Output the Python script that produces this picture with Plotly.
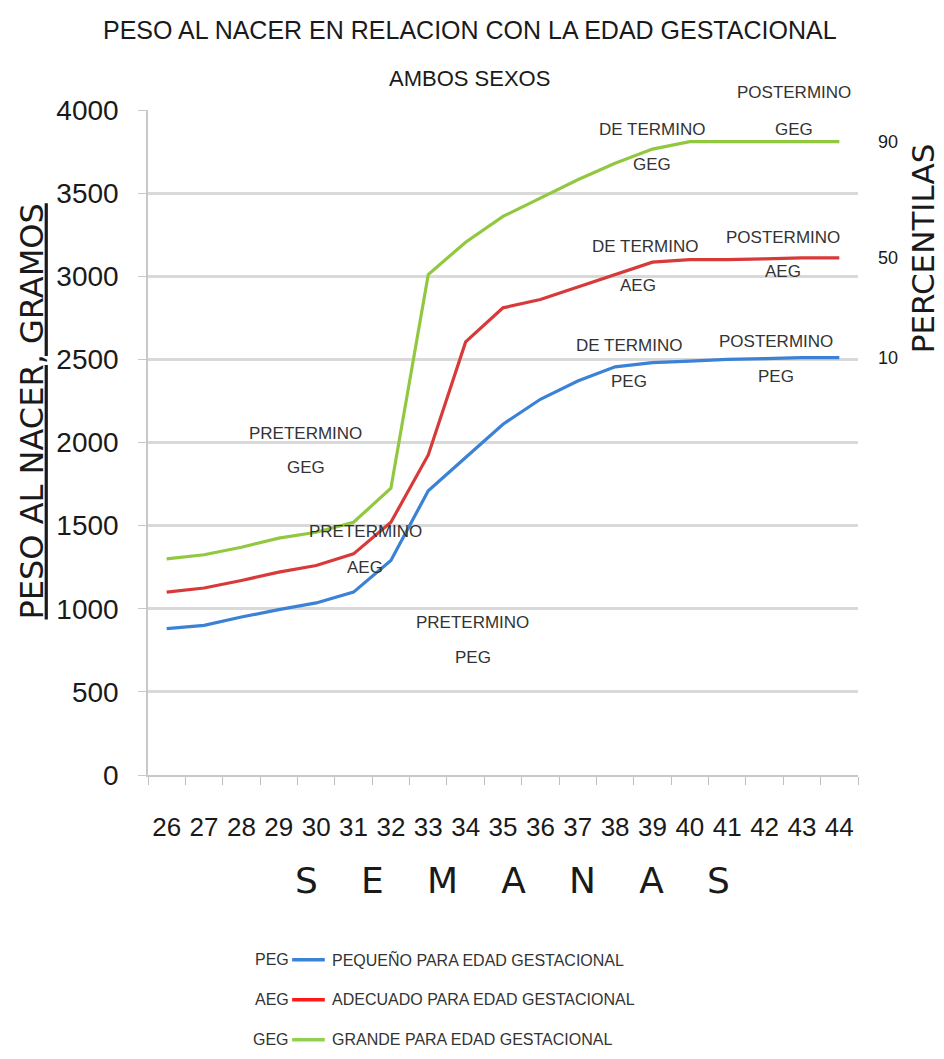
import plotly.graph_objects as go

semanas = [str(s) for s in range(26, 45)]
peg = [880, 900, 950, 995, 1035, 1100, 1290, 1710, 1910, 2110, 2260, 2370, 2455, 2480, 2490, 2500, 2505, 2510, 2510]
aeg = [1100, 1125, 1170, 1220, 1260, 1330, 1520, 1925, 2605, 2810, 2860, 2935, 3015, 3085, 3100, 3100, 3105, 3110, 3110]
geg = [1300, 1325, 1370, 1425, 1460, 1520, 1725, 3010, 3205, 3360, 3470, 3580, 3680, 3765, 3810, 3810, 3810, 3810, 3810]
y_ticks = [0, 500, 1000, 1500, 2000, 2500, 3000, 3500, 4000]
percentiles = ["90", "50", "10"]

series = [
    ("PEG", peg, "#3b82d6", "PEQUEÑO PARA EDAD GESTACIONAL"),
    ("AEG", aeg, "#d83a3a", "ADECUADO PARA EDAD GESTACIONAL"),
    ("GEG", geg, "#92c840", "GRANDE PARA EDAD GESTACIONAL"),
]
legend_colors = ["#3b82d6", "#ff1a1a", "#92d050"]

NARROW = "Liberation Sans, Arial, sans-serif"
WIDE = "DejaVu Sans, sans-serif"
TXT = "#1a1a1a"

fig = go.Figure()
for name, vals, color, _ in series:
    fig.add_trace(go.Scatter(x=semanas, y=vals, mode="lines", name=name,
                             line=dict(color=color, width=3.2), showlegend=False))


def ann(text, x, y, xref="paper", yref="paper", size=17, family=NARROW, color="#333333",
        xanchor="center", angle=0):
    return dict(text=text, x=x, y=y, xref=xref, yref=yref, showarrow=False,
                xanchor=xanchor, yanchor="middle", textangle=angle,
                font=dict(family=family, size=size, color=color))


# point labels (text, x category index, y value)
labels = [
    ("GEG", 16.78, 3880),
    ("DE TERMINO", 13.0, 3880), ("GEG", 13.0, 3675),
    ("DE TERMINO", 12.8, 3176), ("AEG", 12.6, 2947),
    ("POSTERMINO", 16.5, 3236), ("AEG", 16.5, 3026),
    ("DE TERMINO", 12.37, 2586), ("PEG", 12.37, 2364),
    ("POSTERMINO", 16.3, 2605), ("PEG", 16.3, 2400),
    ("PRETERMINO", 3.72, 2057), ("GEG", 3.72, 1847),
    ("PRETERMINO", 5.32, 1462), ("AEG", 5.32, 1251),
    ("PRETERMINO", 8.19, 920), ("PEG", 8.19, 704),
]
anns = [ann(t, x, y, "x", "y") for t, x, y in labels]
anns.append(ann("POSTERMINO", 16.78, 1.0256, "x", "paper"))

# percentile labels on right
for p, vals in zip(percentiles, [geg, aeg, peg]):
    anns.append(ann(p, 1.042, vals[-1], "paper", "y", size=18, color=TXT))
anns.append(ann("PERCENTILAS", 1.092, 3170, "paper", "y", size=31, family=WIDE, color=TXT, angle=-90))

# titles
anns.append(ann("PESO AL NACER EN RELACION CON LA EDAD GESTACIONAL", 0.453, 1.120, size=25, color=TXT))
anns.append(ann("AMBOS SEXOS", 0.453, 1.048, size=22, color=TXT))
anns.append(ann("<u>PESO AL NACER, GRAMOS</u>", -0.164, 0.546, size=32, family=WIDE, color=TXT, angle=-90))
anns.append(ann("S\u2003\u2009E\u2003\u2009M\u2003\u2009A\u2003\u2009N\u2003\u2009A\u2003\u2009S", 0.513, -0.158,
                size=36, family="DejaVu Sans, sans-serif", color=TXT))

# custom legend
shapes = []
rows_y = [-0.278, -0.338, -0.398]
for (name, _, _, desc), lc, ry in zip(series, legend_colors, rows_y):
    anns.append(ann(name, 0.201, ry, size=16, xanchor="right"))
    anns.append(ann(desc, 0.257, ry, size=16, xanchor="left"))
    shapes.append(dict(type="line", xref="paper", yref="paper", x0=0.203, x1=0.249, y0=ry, y1=ry,
                       line=dict(color=lc, width=3.5)))

# page body has an 8px margin: shrink figure so the plot area lands where the reference has it
fig.update_layout(
    width=936, height=1051,
    margin=dict(l=140, r=86, t=102, b=284),
    paper_bgcolor="white", plot_bgcolor="white",
    annotations=anns, shapes=shapes,
    xaxis=dict(type="category", tickson="boundaries", ticks="outside", ticklen=8,
               tickcolor="#bfbfbf", showgrid=False, showline=True, linecolor="#c8c8c8", linewidth=2,
               tickfont=dict(family=NARROW, size=26, color=TXT), ticklabelstandoff=28, tickangle=0,
               range=[-0.5, 18.5]),
    yaxis=dict(range=[0, 4000], tickvals=y_ticks, ticks="outside", ticklen=8, tickcolor="#c8c8c8",
               showgrid=True, gridcolor="#d9d9d9", gridwidth=3, showline=True, linecolor="#c8c8c8",
               linewidth=1.5, zeroline=False,
               tickfont=dict(family=NARROW, size=28, color=TXT), ticklabelstandoff=14),
)

fig.write_html("out.html")
